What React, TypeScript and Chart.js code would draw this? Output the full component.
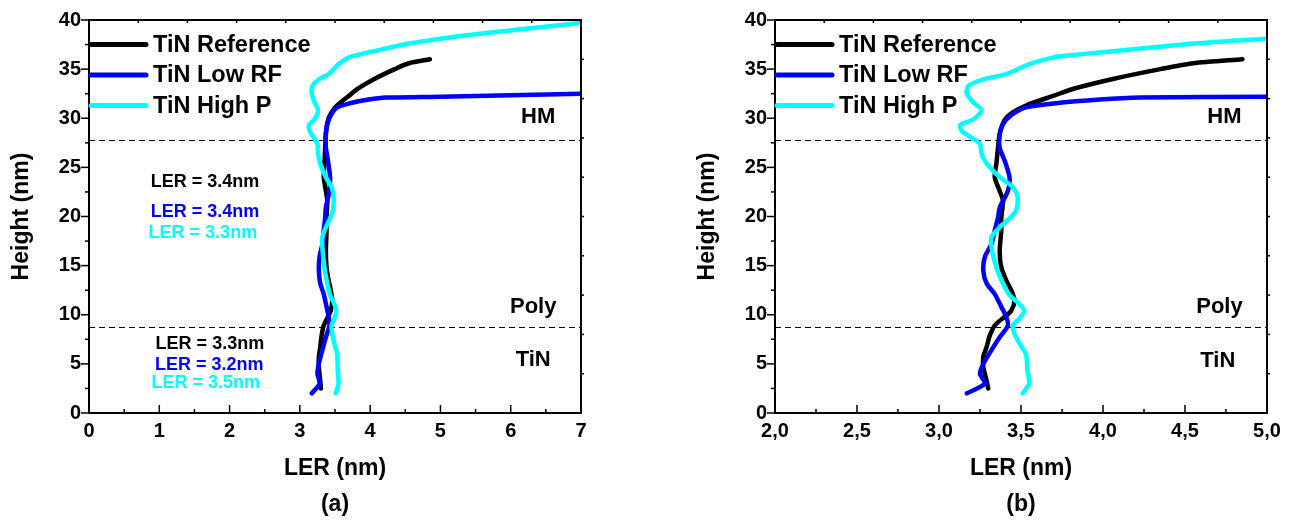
import React, { useEffect, useRef } from "react";
import { Chart, registerables } from "chart.js";

Chart.register(...registerables);

const FONT = '"Liberation Sans", Arial, Helvetica, sans-serif';

// ---- data (LER in nm vs height in nm), bottom to top ----
const refLER = [3.30, 3.29, 3.27, 3.27, 3.29, 3.31, 3.34, 3.40, 3.44, 3.46, 3.44, 3.41, 3.38, 3.37, 3.38, 3.38, 3.39, 3.37, 3.34, 3.35, 3.36, 3.37, 3.40, 3.45, 3.53, 3.70, 3.82, 4.06, 4.35, 4.55, 4.85];
const refHeight = [2.5, 3.3, 4.7, 5.7, 6.7, 7.9, 8.9, 9.8, 10.4, 11.5, 12.5, 13.5, 14.8, 16.5, 18.6, 19.9, 21.6, 22.6, 24.0, 25.4, 27.0, 28.4, 29.8, 30.6, 31.3, 32.3, 33.0, 34.0, 35.0, 35.6, 36.0];

const lowRfLER = [3.17, 3.28, 3.25, 3.27, 3.32, 3.37, 3.42, 3.41, 3.38, 3.34, 3.29, 3.27, 3.28, 3.32, 3.34, 3.36, 3.37, 3.42, 3.43, 3.40, 3.37, 3.37, 3.39, 3.44, 3.53, 3.70, 3.98, 4.23, 5.0, 7.0];
const lowRfHeight = [2.0, 3.0, 4.0, 5.0, 6.4, 7.7, 8.9, 9.8, 10.8, 12.1, 13.2, 14.5, 15.9, 17.2, 18.6, 19.9, 20.9, 22.6, 24.0, 25.7, 27.0, 28.4, 29.4, 30.3, 31.1, 31.5, 31.9, 32.1, 32.2, 32.5];

const highPLER = [3.51, 3.55, 3.54, 3.53, 3.49, 3.46, 3.45, 3.49, 3.52, 3.49, 3.43, 3.39, 3.35, 3.32, 3.32, 3.37, 3.43, 3.47, 3.48, 3.45, 3.37, 3.29, 3.26, 3.25, 3.19, 3.14, 3.13, 3.21, 3.26, 3.21, 3.17, 3.18, 3.28, 3.41, 3.55, 3.70, 3.86, 3.98, 4.55, 5.0, 5.56, 7.0];
const highPHeight = [2.0, 3.0, 4.3, 6.0, 7.1, 8.1, 8.9, 9.6, 10.4, 11.1, 12.0, 13.2, 14.8, 16.9, 17.9, 18.9, 19.8, 20.6, 22.0, 23.0, 24.0, 25.4, 26.4, 27.4, 28.1, 28.7, 29.3, 29.9, 30.8, 31.6, 32.5, 33.3, 34.0, 34.5, 35.5, 36.2, 36.5, 36.7, 37.6, 38.1, 38.6, 39.7];

const seriesLabels = ["TiN Reference", "TiN Low RF", "TiN High P"];
const seriesColors = ["#000000", "#0000ff", "#00ffff"];

// layer boundaries (height, nm)
const layerBoundaries = [27.8, 8.8];
const layerNames = ["HM", "Poly", "TiN"];

// LER annotations in panel (a)
const lerNoteTexts = ["LER = 3.4nm", "LER = 3.4nm", "LER = 3.3nm", "LER = 3.3nm", "LER = 3.2nm", "LER = 3.5nm"];
const lerNoteSeries = [0, 1, 2, 0, 1, 2];

// axis ranges
const heightMin = 0;
const heightMax = 40;
const panelA = { id: "(a)", xMin: 0, xMax: 7, xStep: 1, comma: false };
const panelB = { id: "(b)", xMin: 2, xMax: 5, xStep: 0.5, comma: true };

// annotation placement (data coordinates) per panel
const panelALayerPos = { x: [6.39, 6.32, 6.32], y: [30.1, 10.8, 5.4] };
const panelBLayerPos = { x: [4.74, 4.71, 4.70], y: [30.1, 10.8, 5.3] };
const panelALerPos = { x: [1.65, 1.65, 1.62, 1.72, 1.71, 1.66], y: [23.5, 20.5, 18.3, 7.0, 4.9, 3.0] };

type PanelCfg = {
  panel: typeof panelA;
  layerPos: { x: number[]; y: number[] };
  lerPos: { x: number[]; y: number[] } | null;
};

function makeDecor(cfg: PanelCfg) {
  return {
    id: "decor" + cfg.panel.id,
    beforeDatasetsDraw(chart: any) {
      const { ctx, chartArea: a, scales } = chart;
      const y = scales.y;
      ctx.save();
      ctx.strokeStyle = "#000";
      ctx.lineWidth = 1.1;
      ctx.setLineDash([6, 4]);
      for (const h of layerBoundaries) {
        const py = Math.round(y.getPixelForValue(h)) + 0.5;
        ctx.beginPath();
        ctx.moveTo(a.left, py);
        ctx.lineTo(a.right, py);
        ctx.stroke();
      }
      ctx.restore();
    },
    afterDatasetsDraw(chart: any) {
      const { ctx, chartArea: a, scales } = chart;
      const x = scales.x;
      const y = scales.y;
      ctx.save();
      // frame
      ctx.strokeStyle = "#000";
      ctx.lineWidth = 2;
      ctx.setLineDash([]);
      ctx.strokeRect(a.left, a.top, a.right - a.left, a.bottom - a.top);
      ctx.lineWidth = 1.5;
      // bottom ticks (inward): major + minor
      const p = cfg.panel;
      const half = p.xStep / 2;
      const nX = Math.round((p.xMax - p.xMin) / half);
      for (let i = 0; i <= nX; i++) {
        const v = p.xMin + i * half;
        const px = x.getPixelForValue(v);
        const len = i % 2 === 0 ? 8 : 4;
        ctx.beginPath();
        ctx.moveTo(px, a.bottom);
        ctx.lineTo(px, a.bottom - len);
        ctx.stroke();
      }
      // left ticks (outward)
      const nY = Math.round((heightMax - heightMin) / 2.5);
      for (let i = 0; i <= nY; i++) {
        const v = heightMin + i * 2.5;
        const py = y.getPixelForValue(v);
        const len = i % 2 === 0 ? 8 : 4;
        ctx.beginPath();
        ctx.moveTo(a.left, py);
        ctx.lineTo(a.left - len, py);
        ctx.stroke();
      }
      // top ticks (10 divisions, inward) and right ticks (10 divisions, outward)
      for (let i = 1; i < 10; i++) {
        const px = a.left + ((a.right - a.left) * i) / 10;
        ctx.beginPath();
        ctx.moveTo(px, a.top);
        ctx.lineTo(px, a.top + 3);
        ctx.stroke();
        const py = a.top + ((a.bottom - a.top) * i) / 10;
        ctx.beginPath();
        ctx.moveTo(a.right, py);
        ctx.lineTo(a.right + 3, py);
        ctx.stroke();
      }
      // layer names
      ctx.fillStyle = "#000";
      ctx.textAlign = "center";
      ctx.textBaseline = "middle";
      ctx.font = `bold 22px ${FONT}`;
      layerNames.forEach((t, i) => {
        ctx.fillText(t, x.getPixelForValue(cfg.layerPos.x[i]), y.getPixelForValue(cfg.layerPos.y[i]));
      });
      // LER notes
      if (cfg.lerPos) {
        ctx.font = `bold 18px ${FONT}`;
        lerNoteTexts.forEach((t, i) => {
          ctx.fillStyle = seriesColors[lerNoteSeries[i]];
          ctx.fillText(t, x.getPixelForValue(cfg.lerPos!.x[i]), y.getPixelForValue(cfg.lerPos!.y[i]));
        });
      }
      // legend
      ctx.font = `bold 23.5px ${FONT}`;
      ctx.textAlign = "left";
      seriesLabels.forEach((t, i) => {
        const ly = a.top + 24.5 + 30.5 * i;
        ctx.strokeStyle = seriesColors[i];
        ctx.lineWidth = 5;
        ctx.lineCap = "round";
        ctx.beginPath();
        ctx.moveTo(a.left + 2, ly);
        ctx.lineTo(a.left + 57, ly);
        ctx.stroke();
        ctx.fillStyle = "#000";
        ctx.fillText(t, a.left + 64, ly + 1);
      });
      // panel caption
      ctx.textAlign = "center";
      ctx.font = `bold 23px ${FONT}`;
      ctx.fillText(p.id, (a.left + a.right) / 2, a.bottom + 92);
      ctx.restore();
    },
  };
}

function toPoints(xs: number[], ys: number[]) {
  return xs.map((v, i) => ({ x: v, y: ys[i] }));
}

function Panel({ cfg, left, width, padRight }: { cfg: PanelCfg; left: number; width: number; padRight: number }) {
  const ref = useRef<HTMLCanvasElement | null>(null);
  useEffect(() => {
    if (!ref.current) return;
    const p = cfg.panel;
    const mk = (label: string, xs: number[], ys: number[], color: string, order: number) => ({
      label,
      data: toPoints(xs, ys),
      showLine: true,
      borderColor: color,
      backgroundColor: color,
      borderWidth: 4.5,
      pointRadius: 0,
      tension: 0.25,
      borderCapStyle: "round",
      borderJoinStyle: "round",
      order,
    });
    const chart = new Chart(ref.current, {
      type: "scatter",
      data: {
        datasets: [
          mk(seriesLabels[0], refLER, refHeight, seriesColors[0], 2),
          mk(seriesLabels[1], lowRfLER, lowRfHeight, seriesColors[1], 1),
          mk(seriesLabels[2], highPLER, highPHeight, seriesColors[2], 0),
        ] as any,
      },
      options: {
        responsive: false,
        animation: false,
        devicePixelRatio: 1,
        layout: { padding: { top: 19.5, right: padRight, left: 0, bottom: 0 } },
        plugins: { legend: { display: false }, tooltip: { enabled: false } },
        scales: {
          x: {
            type: "linear",
            min: p.xMin,
            max: p.xMax,
            afterFit: (s: any) => {
              s.height = 108;
            },
            grid: { display: false, drawTicks: false },
            border: { display: false },
            ticks: {
              stepSize: p.xStep,
              autoSkip: false,
              maxRotation: 0,
              padding: 6,
              color: "#000",
              font: { family: FONT, size: 20, weight: "bold" },
              callback: (v: any) => {
                const n = Number(v);
                return p.comma ? n.toFixed(1).replace(".", ",") : String(Math.round(n));
              },
            },
            title: {
              display: true,
              text: "LER (nm)",
              color: "#000",
              font: { family: FONT, size: 23, weight: "bold" },
              padding: { top: 0, bottom: 39 },
            },
          },
          y: {
            type: "linear",
            min: heightMin,
            max: heightMax,
            afterFit: (s: any) => {
              s.width = 89;
            },
            grid: { display: false, drawTicks: false },
            border: { display: false },
            ticks: {
              stepSize: 5,
              autoSkip: false,
              padding: 8,
              color: "#000",
              font: { family: FONT, size: 20, weight: "bold" },
            },
            title: {
              display: true,
              text: "Height (nm)",
              color: "#000",
              font: { family: FONT, size: 23, weight: "bold" },
              padding: { top: 8, bottom: 0 },
            },
          },
        },
      } as any,
      plugins: [makeDecor(cfg)],
    });
    return () => chart.destroy();
  }, []);
  return (
    <canvas
      ref={ref}
      width={width}
      height={521}
      style={{ position: "absolute", left, top: 0, width, height: 521 }}
    />
  );
}

export default function App() {
  return (
    <div style={{ position: "fixed", left: 0, top: 0, width: 1295, height: 521, background: "#fff", overflow: "hidden" }}>
      <Panel cfg={{ panel: panelA, layerPos: panelALayerPos, lerPos: panelALerPos }} left={0} width={640} padRight={59} />
      <Panel cfg={{ panel: panelB, layerPos: panelBLayerPos, lerPos: null }} left={686} width={609} padRight={28} />
    </div>
  );
}
